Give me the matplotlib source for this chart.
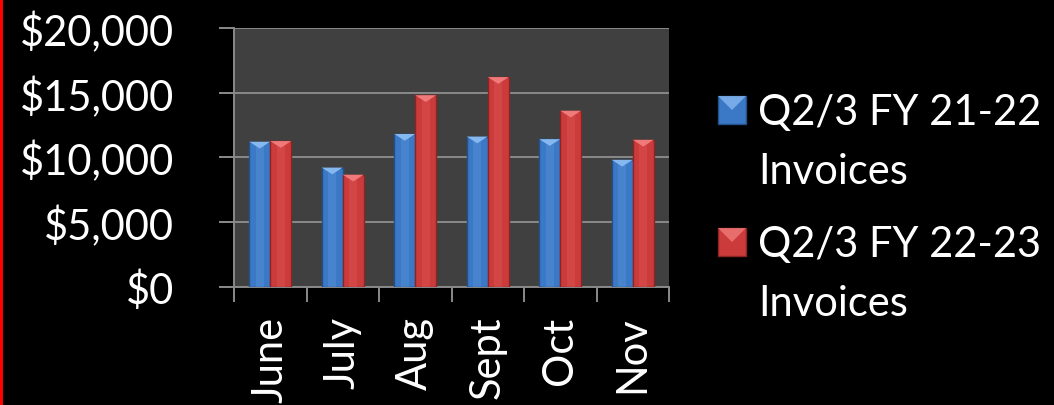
import matplotlib.pyplot as plt
import numpy as np
from matplotlib.patches import Polygon, Rectangle
from matplotlib.ticker import FuncFormatter, MultipleLocator

months = ['June', 'July', 'Aug', 'Sept', 'Oct', 'Nov']
invoices_2122 = [11200, 9200, 11800, 11600, 11400, 9800]
invoices_2223 = [11250, 8650, 14800, 16200, 13600, 11350]
series_names = [['Q2/3 FY 21-22', 'Invoices'], ['Q2/3 FY 22-23', 'Invoices']]

plt.rcParams['font.family'] = ['Lato', 'DejaVu Sans']
FS = 30
GRID = '#8a8a8a'

fig = plt.figure(figsize=(10.54, 4.06), dpi=100, facecolor='black')
ax = fig.add_axes([234 / 1054, 1 - 287.5 / 406, 435 / 1054, 258.5 / 406])
ax.set_facecolor('#404040')

x = np.arange(len(months))
w = 0.29
styles = [('#3b78c6', '#24508a', '#86b8f0'), ('#cc3b3b', '#8c2424', '#f07a7a')]
bevel = 520  # height of the pointed cap, in data units

for vals, off, (face, edge, light) in zip([invoices_2122, invoices_2223],
                                         [-w / 2, w / 2], styles):
    bars = ax.bar(x + off, vals, w, color=face, edgecolor=edge,
                  linewidth=1.0, zorder=3)
    for b in bars:
        x0, x1 = b.get_x(), b.get_x() + b.get_width()
        top = b.get_height()
        # lighter centre stripe
        ax.add_patch(Rectangle((x0 + 0.3 * (x1 - x0), 0), 0.4 * (x1 - x0), top,
                               facecolor=light, alpha=0.18, lw=0, zorder=4))
        # pointed bevel on the top face
        ax.add_patch(Polygon([(x0, top), (x1, top), ((x0 + x1) / 2, top - bevel)],
                             closed=True, facecolor=light, edgecolor='none',
                             zorder=5))

ax.set_xlim(-0.5, len(months) - 0.5)
ax.set_ylim(0, 20000)
ax.yaxis.set_major_locator(MultipleLocator(5000))
ax.yaxis.set_major_formatter(FuncFormatter(lambda v, p: '${:,.0f}'.format(v)))
ax.grid(axis='y', color=GRID, linewidth=1.4, zorder=1)
ax.set_axisbelow(True)

ax.set_xticks(x)
ax.set_xticklabels(months, rotation=90, va='top', ha='center')
ax.set_xticks(np.arange(-0.5, len(months)), minor=True)
ax.tick_params(axis='x', which='major', length=0, pad=21, labelsize=FS,
               labelcolor='white')
ax.tick_params(axis='x', which='minor', length=11, width=1.4, color=GRID)
ax.tick_params(axis='y', length=11, width=1.4, color=GRID, pad=32,
               labelsize=FS, labelcolor='white')

for s in ['top', 'right']:
    ax.spines[s].set_visible(False)
for s in ['left', 'bottom']:
    ax.spines[s].set_color(GRID)
    ax.spines[s].set_linewidth(1.4)

# legend drawn in figure pixels: marker top, then baselines of both lines
leg_y = [97, 229]
for lines, (face, edge, light), y in zip(series_names, styles, leg_y):
    mx, my, ms = 718 / 1054, 1 - (y + 28) / 406, 28
    fig.patches.append(Rectangle((mx, my), ms / 1054, ms / 406,
                                 transform=fig.transFigure, facecolor=face,
                                 edgecolor=edge, linewidth=1))
    fig.patches.append(Polygon([(mx, my + ms / 406), (mx + ms / 1054, my + ms / 406),
                                (mx + ms / 2108, my + ms / 812)],
                               closed=True, transform=fig.transFigure,
                               facecolor=light, edgecolor='none', alpha=0.8))
    for i, line in enumerate(lines):
        fig.text(758 / 1054, 1 - (y + 28 + 59 * i) / 406, line, color='white',
                 fontsize=FS, va='baseline', ha='left')

# red edge on the left side
fig.patches.append(Rectangle((0, 0), 3 / 1054, 1, transform=fig.transFigure,
                             facecolor='#ff0000', edgecolor='none'))

fig.savefig('out.png', dpi=100, facecolor='black')
